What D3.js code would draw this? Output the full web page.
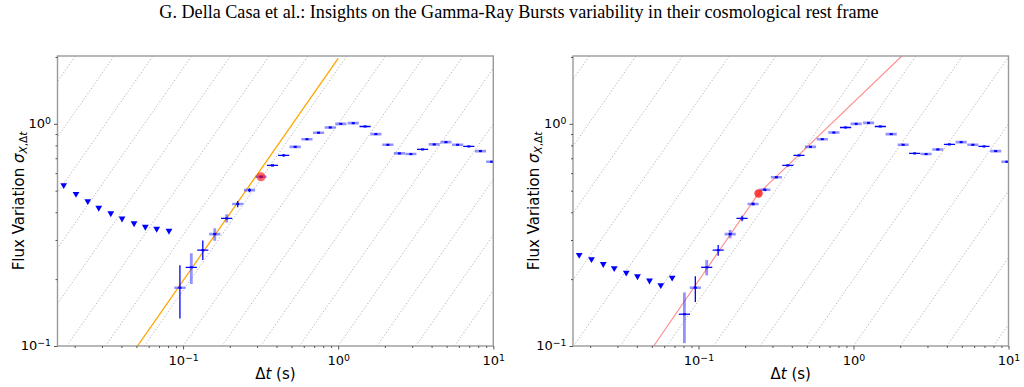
<!DOCTYPE html>
<html>
<head>
<meta charset="utf-8">
<style>
  body { margin: 0; background: #fff; }
  svg { display: block; }
</style>
</head>
<body>
<svg width="1024" height="387"></svg>
<script src="https://d3js.org/d3.v7.min.js"></script>
<script>
// time bins (s), shared by both panels
var binDt = [0.0170, 0.0204, 0.0243, 0.0286, 0.0342, 0.0404, 0.0483, 0.0571, 0.0676, 0.0811,
             0.0954, 0.113, 0.134, 0.160, 0.191, 0.225, 0.268, 0.318, 0.377, 0.445,
             0.528, 0.629, 0.747, 0.889, 1.04, 1.25, 1.49, 1.75, 2.09, 2.48,
             2.94, 3.50, 4.16, 4.95, 5.89, 6.95, 8.27, 9.77];

// upper limits (triangles), from the first bin on
var leftLimits  = [0.530, 0.484, 0.449, 0.419, 0.396, 0.375, 0.357, 0.344, 0.337, 0.330];
var rightLimits = [0.257, 0.246, 0.234, 0.224, 0.214, 0.206, 0.197, 0.188, 0.203];

// measured points, starting at bin 10 (left) and bin 9 (right)
var leftSigma  = [0.183, 0.226, 0.270, 0.319, 0.375, 0.436, 0.503, 0.578, 0.650, 0.721,
                  0.788, 0.853, 0.912, 0.963, 1.000, 1.007, 0.973, 0.899, 0.805, 0.736,
                  0.731, 0.767, 0.808, 0.827, 0.805, 0.791, 0.754, 0.675];
var rightSigma = [0.139, 0.183, 0.226, 0.270, 0.319, 0.375, 0.436, 0.505, 0.575, 0.650,
                  0.721, 0.788, 0.853, 0.914, 0.963, 1.000, 1.010, 0.973, 0.899, 0.805,
                  0.736, 0.731, 0.767, 0.808, 0.827, 0.805, 0.791, 0.754, 0.675];

// errors in dex (lower, upper)
var leftErrLo  = [0.139, 0.075, 0.044, 0.030, 0.018, 0.015, 0.009, 0.008, 0.006, 0.005,
                  0.004, 0.004, 0.004, 0.004, 0.004, 0.004, 0.004, 0.004, 0.004, 0.004,
                  0.004, 0.004, 0.004, 0.004, 0.004, 0.004, 0.004, 0.004];
var leftErrHi  = [0.101, 0.063, 0.043, 0.026, 0.019, 0.013, 0.008, 0.007, 0.006, 0.005,
                  0.004, 0.004, 0.004, 0.004, 0.004, 0.004, 0.004, 0.004, 0.004, 0.004,
                  0.004, 0.004, 0.004, 0.004, 0.004, 0.004, 0.004, 0.004];
var rightErrLo = [0.130, 0.064, 0.036, 0.025, 0.019, 0.012, 0.008, 0.007, 0.006, 0.005,
                  0.004, 0.004, 0.004, 0.004, 0.004, 0.004, 0.004, 0.004, 0.004, 0.004,
                  0.004, 0.004, 0.004, 0.004, 0.004, 0.004, 0.004, 0.004, 0.004];
var rightErrHi = [0.098, 0.051, 0.033, 0.023, 0.018, 0.012, 0.008, 0.007, 0.006, 0.005,
                  0.004, 0.004, 0.004, 0.004, 0.004, 0.004, 0.004, 0.004, 0.004, 0.004,
                  0.004, 0.004, 0.004, 0.004, 0.004, 0.004, 0.004, 0.004, 0.004];
var binHalfDex = 0.036;

// which bar of each point is drawn dark ("d") or light ("l"): vertical, horizontal
var leftVStyle  = "dldllddlldlllllllllllllllll".split("").concat(["l"]);
var leftHStyle  = "lddldllldd lllllldlllldllldll".replace(/ /g, "").split("");
var rightVStyle = "ldldldllllllllllllllllllllll".split("").concat(["l"]);
var rightHStyle = "dlddldllldd llldlldlldlldlld".replace(/ /g, "").split("");

// fits and break points
var leftFitDt  = [0.0508, 1.00];
var leftFitSig = [0.100, 1.97];
var rightFitDt  = [0.0514, 0.244, 2.05];
var rightFitSig = [0.100, 0.486, 2.02];
var leftBreak  = [0.318, 0.578];
var rightBreak = [0.244, 0.486];

// diagonal guides sigma = c * dt (log10 c)
var leftGuides  = [-2.0, -1.75, -1.5, -1.25, -1.0, -0.75, -0.5, -0.25, 0.0, 0.25, 0.5, 0.75, 1.0, 1.25, 1.5, 1.75, 2.0, 2.25];
var rightGuides = [-1.903, -1.602, -1.301, -1.0, -0.699, -0.398, -0.097, 0.204, 0.505, 0.806, 1.107, 1.408, 1.709, 2.010];

var titleText = "G. Della Casa et al.: Insights on the Gamma-Ray Bursts variability in their cosmological rest frame";

var svg = d3.select("svg");
var plotTop = 56, plotBottom = 346;
var font = "DejaVu Sans";

svg.append("text")
  .attr("id", "title")
  .attr("x", 519).attr("y", 18)
  .attr("text-anchor", "middle")
  .style("font-family", "Liberation Serif")
  .style("font-size", "15.5px")
  .attr("fill", "#000")
  .text(titleText);
var tnode = document.getElementById("title");
var tl = tnode.getComputedTextLength();
d3.select(tnode).style("font-size", (15.5 * 720 / tl).toFixed(2) + "px");

function supLabel(sel, d) {
  var e = Math.round(Math.log10(d));
  sel.text(null);
  sel.append("tspan").text("10");
  sel.append("tspan").attr("dy", "-0.45em").style("font-size", "0.72em").text(e < 0 ? "\u2212" + (-e) : e);
}

function panel(opt, idx) {
  var x = d3.scaleLog().domain([0.0155, 10]).range([opt.left, opt.right]);
  var y = d3.scaleLog().domain([0.1, 2.02]).range([plotBottom, plotTop]);
  var g = svg.append("g");

  g.append("clipPath").attr("id", "clip" + idx)
    .append("rect").attr("x", opt.left).attr("y", plotTop)
    .attr("width", opt.right - opt.left).attr("height", plotBottom - plotTop);
  var plot = g.append("g").attr("clip-path", "url(#clip" + idx + ")");

  // guides
  var xd = x.domain(), yd = y.domain();
  opt.guides.forEach(function(lc) {
    var c = Math.pow(10, lc);
    plot.append("line")
      .attr("x1", x(yd[0] / c)).attr("y1", y(yd[0]))
      .attr("x2", x(yd[1] / c)).attr("y2", y(yd[1]))
      .attr("stroke", "#a8a8a8").attr("stroke-width", 0.9)
      .attr("stroke-dasharray", "1.2,2");
  });

  // fit line
  var line = d3.line().x(function(d) { return x(d[0]); }).y(function(d) { return y(d[1]); });
  plot.append("path")
    .attr("d", line(d3.zip(opt.fitDt, opt.fitSig)))
    .attr("fill", "none").attr("stroke", opt.fitColor).attr("stroke-width", opt.fitWidth);

  // upper limits
  var tri = d3.symbol().type(d3.symbolTriangle).size(20);
  opt.limits.forEach(function(v, i) {
    plot.append("path").attr("d", tri())
      .attr("transform", "translate(" + x(binDt[i]) + "," + y(v) + ") rotate(180)")
      .attr("fill", "#0000ff");
  });

  // error bars
  opt.sigma.forEach(function(v, i) {
    var dt = binDt[opt.start + i];
    var cx = x(dt), cy = y(v);
    var vLo = y(v * Math.pow(10, -opt.errLo[i])), vHi = y(v * Math.pow(10, opt.errHi[i]));
    var hLo = x(dt * Math.pow(10, -binHalfDex)), hHi = x(dt * Math.pow(10, binHalfDex));
    var light = "rgba(40,40,255,0.5)";
    var vs = opt.vStyle[i] || "l", hs = opt.hStyle[i] || "l";
    plot.append("line").attr("x1", hLo).attr("x2", hHi).attr("y1", cy).attr("y2", cy)
      .attr("stroke", hs === "d" ? "#0000ff" : light).attr("stroke-width", hs === "d" ? 1.3 : 2.6);
    plot.append("line").attr("x1", cx).attr("x2", cx).attr("y1", vLo).attr("y2", vHi)
      .attr("stroke", vs === "d" ? "#0000ff" : light).attr("stroke-width", vs === "d" ? 1.3 : 2.8);
    plot.append("rect").attr("x", cx - 1.5).attr("y", cy - 1).attr("width", 3).attr("height", 2)
      .attr("fill", "#0000ff");
  });

  // break point
  plot.append("circle")
    .attr("cx", x(opt.brk[0])).attr("cy", y(opt.brk[1])).attr("r", opt.brkR)
    .attr("fill", opt.brkColor).attr("fill-opacity", opt.brkOpacity);

  // frame
  g.append("rect").attr("x", opt.left).attr("y", plotTop)
    .attr("width", opt.right - opt.left).attr("height", plotBottom - plotTop)
    .attr("fill", "none").attr("stroke", "#9a9a9a").attr("stroke-width", 1.4);

  // axes
  var majorX = [0.1, 1, 10], majorY = [0.1, 1];
  var minorX = x.ticks().filter(function(d) { return majorX.indexOf(d) < 0 && d >= xd[0]; });
  var minorY = y.ticks().filter(function(d) { return majorY.indexOf(d) < 0 && d <= yd[1]; });

  var ax = g.append("g").attr("transform", "translate(0," + plotBottom + ")")
    .call(d3.axisBottom(x).tickValues(majorX).tickSize(3.5).tickPadding(3));
  g.append("g").attr("transform", "translate(0," + plotBottom + ")")
    .call(d3.axisBottom(x).tickValues(minorX).tickSize(2).tickFormat(""));
  var ay = g.append("g").attr("transform", "translate(" + opt.left + ",0)")
    .call(d3.axisLeft(y).tickValues(majorY).tickSize(3.5).tickPadding(3));
  g.append("g").attr("transform", "translate(" + opt.left + ",0)")
    .call(d3.axisLeft(y).tickValues(minorY).tickSize(2).tickFormat(""));

  g.selectAll(".domain").remove();
  g.selectAll(".tick line").attr("stroke", "#555");
  ax.selectAll(".tick text").each(function(d) { supLabel(d3.select(this), d); })
    .attr("dy", "0.95em");
  ay.selectAll(".tick text").each(function(d) { supLabel(d3.select(this), d); })
    .attr("dy", "0.3em");
  g.selectAll(".tick text").style("font-family", font).style("font-size", "13px").attr("fill", "#000");

  // axis labels
  var xl = g.append("text")
    .attr("x", (opt.left + opt.right) / 2).attr("y", 379)
    .attr("text-anchor", "middle")
    .style("font-family", font).style("font-size", "15px");
  xl.append("tspan").text("\u0394");
  xl.append("tspan").style("font-style", "italic").text("t");
  xl.append("tspan").text(" (s)");

  var yl = g.append("text")
    .attr("transform", "translate(" + (opt.left - 34) + "," + ((plotTop + plotBottom) / 2) + ") rotate(-90)")
    .attr("text-anchor", "middle")
    .style("font-family", font).style("font-size", "15px");
  yl.append("tspan").text("Flux Variation ");
  yl.append("tspan").style("font-style", "italic").text("\u03c3");
  yl.append("tspan").attr("dy", "0.3em").style("font-size", "10.5px").style("font-style", "italic").text("X");
  yl.append("tspan").style("font-size", "10.5px").text(",\u0394");
  yl.append("tspan").style("font-size", "10.5px").style("font-style", "italic").text("t");
}

panel({
  left: 57.5, right: 493.3, start: 10,
  limits: leftLimits, sigma: leftSigma, errLo: leftErrLo, errHi: leftErrHi,
  vStyle: leftVStyle, hStyle: leftHStyle,
  fitDt: leftFitDt, fitSig: leftFitSig, fitColor: "#ffa500", fitWidth: 1.3,
  guides: leftGuides, brk: leftBreak, brkR: 4.5, brkColor: "#ff0000", brkOpacity: 0.6
}, 0);

panel({
  left: 573, right: 1008.5, start: 9,
  limits: rightLimits, sigma: rightSigma, errLo: rightErrLo, errHi: rightErrHi,
  vStyle: rightVStyle, hStyle: rightHStyle,
  fitDt: rightFitDt, fitSig: rightFitSig, fitColor: "#ff8a8a", fitWidth: 1.1,
  guides: rightGuides, brk: rightBreak, brkR: 4.2, brkColor: "#ff2020", brkOpacity: 0.85
}, 1);
</script>
</body>
</html>
